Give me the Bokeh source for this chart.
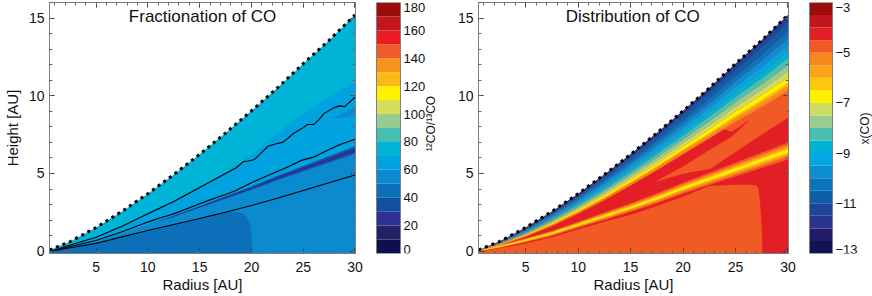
import math
import numpy as np
from bokeh.plotting import figure
from bokeh.layouts import row
from bokeh.models import (Range1d, LinearAxis, SingleIntervalTicker, Label,
                          CustomJSTickFormatter, ColumnDataSource)
from bokeh.embed import file_html
from bokeh.resources import INLINE

# ---------------- data ----------------
radius_au = [0.5, 2.5, 5, 7.5, 10, 12.5, 15, 17.5, 20, 22.5, 25, 27.5, 30]
surface_z = [0.08, 0.62, 1.52, 2.56, 3.70, 4.93, 6.23, 7.60, 9.03, 10.50, 12.06, 13.57, 15.20]

# colour scales
ratio_levels = [0, 10, 20, 30, 40, 50, 60, 70, 80, 90, 100, 110, 120, 130, 140, 150, 160, 170, 180]
ratio_colors = ["#0f0f4f", "#232063", "#2e3192", "#124f9f", "#0b6fba", "#0b8ad0",
                "#00a3e0", "#00b4d8", "#45c0b0", "#98cb8f", "#d7df5a", "#fff200",
                "#fdb913", "#f7941d", "#f15a29", "#ed1c24", "#c4161c", "#9b0d0d"]
ratio_ticks = [0, 20, 40, 60, 80, 100, 120, 140, 160, 180]
ratio_tick_labels = ["0", "20", "40", "60", "80", "100", "120", "140", "160", "180"]

xco_levels = [-13, -12.5, -12, -11.5, -11, -10.5, -10, -9.5, -9, -8.5, -8, -7.5, -7,
              -6.5, -6, -5.5, -5, -4.5, -4, -3.5, -3]
xco_colors = ["#111253", "#211c6a", "#2a3590", "#21449a", "#0d5fa8", "#0b75bb",
              "#0d8ed1", "#03a6e3", "#00b3d6", "#4bbfb0", "#99cc8e", "#cddc63",
              "#fff200", "#fdc70c", "#fba31a", "#f7861f", "#f15a24", "#e31e24",
              "#c1161d", "#9b0d0d"]
xco_ticks = [-13, -11, -9, -7, -5, -3]
xco_tick_labels = ["\u221213", "\u221211", "\u22129", "\u22127", "\u22125", "\u22123"]

# --- panel 1: 12CO/13CO ratio regions ---
ratio_70_top = surface_z
ratio_60_top = [0.03, 0.42, 0.95, 1.65, 2.45, 3.25, 4.15, 5.10, 6.20, 7.60, 8.85, 9.90, 10.90]
ratio_50_top = [0.01, 0.27, 0.63, 1.15, 1.72, 2.25, 2.80, 3.35, 4.00, 4.70, 5.45, 6.00, 6.70]
streak_center = [0.0, 0.2, 0.5, 1.0, 1.70, 2.25, 2.85, 3.45, 4.05, 4.70, 5.30, 5.90, 6.50]
streak_half = [0.0, 0.0, 0.0, 0.0, 0.0, 0.03, 0.06, 0.09, 0.12, 0.15, 0.19, 0.23, 0.27]
core40_r = [0.5, 2.5, 5, 7.5, 10, 12.5, 15, 16.5, 17.5, 18.5, 19.2, 19.6, 19.85, 20.0, 20.05, 20.05, 0.5]
core40_z = [0.0, 0.2, 0.45, 0.85, 1.25, 1.68, 2.1, 2.4, 2.5, 2.52, 2.4, 2.15, 1.7, 1.0, 0.3, -1, -1]
blob50_r = [27.6, 28.5, 30.1, 30.1, 29.0]
blob50_z = [8.55, 8.75, 9.3, 8.75, 8.6]

contour1_r = [0.8, 2.5, 5, 7.5, 10, 12.5, 15, 17.5, 18.5, 19.2, 19.7, 20.3, 21.0, 21.6, 22.3,
              23.0, 23.5, 24.0, 25.0, 25.4, 26.0, 26.5, 27.0, 28.0, 28.5, 29.0, 30.0]
contour1_z = [0.02, 0.40, 0.90, 1.60, 2.40, 3.20, 4.10, 5.00, 5.35, 5.75, 5.80, 5.90, 6.35, 6.75,
              6.90, 7.00, 7.25, 7.55, 7.95, 8.15, 8.15, 8.45, 8.85, 9.25, 9.35, 9.30, 9.90]
contour2_r = [0.8, 2.5, 5, 7.5, 10, 11, 12.5, 15, 16, 17.5, 18.5, 20, 21.6, 23.5, 24.8, 26, 27.3, 28.5, 30]
contour2_z = [0.02, 0.30, 0.69, 1.25, 1.87, 2.10, 2.40, 3.05, 3.30, 3.65, 3.90, 4.40, 4.87, 5.41,
              5.84, 6.05, 6.48, 6.85, 7.20]
contour3_r = [0.8, 2.5, 5, 7.5, 10, 12.5, 15, 17.5, 20, 22.5, 25, 27.5, 30]
contour3_z = [0.02, 0.22, 0.50, 0.92, 1.33, 1.72, 2.10, 2.50, 2.94, 3.40, 3.90, 4.40, 4.90]

# --- panel 2: log x(CO) regions ---
co_grad_bottom_z = [0.03, 0.37, 0.92, 1.61, 2.40, 3.28, 4.23, 5.20, 6.23, 7.25, 8.31, 9.27, 10.30]
co_grad_fraction = [0.11, 0.22, 0.31, 0.40, 0.48, 0.57, 0.66, 0.74, 0.82, 0.90, 0.93, 0.96, 1.00]
co_streak_center = [0.02, 0.30, 0.70, 1.15, 1.70, 2.25, 2.80, 3.40, 4.05, 4.65, 5.25, 5.85, 6.45]
co_streak_half = [0.02, 0.08, 0.13, 0.17, 0.20, 0.24, 0.28, 0.32, 0.36, 0.40, 0.45, 0.50, 0.55]
co_streak_fraction = [1.0, 0.72, 0.5, 0.32, 0.16]
co_block_r = [0.5, 2.5, 5, 7.5, 10, 12.5, 15, 17.5, 20, 22.5, 25, 26.5, 27.0, 27.2, 27.35, 27.5, 27.6, 0.5]
co_block_z = [-0.02, 0.18, 0.50, 0.90, 1.40, 1.90, 2.35, 2.90, 3.50, 4.20, 4.28, 4.28, 4.22, 4.0,
              3.0, 1.5, -1, -1]
# orange (-5..-4.5) zone below the surface layer, wrapping round a red tongue
co_orange_r = [17.3, 20.0, 22.6, 24.6, 27.0, 30.1, 30.1, 27.5, 25.0, 23.5, 24.6, 25.5, 26.4,
               25.5, 24.6, 22.0, 20.0]
co_orange_z = [4.45, 4.98, 5.30, 6.20, 7.28, 8.63, 10.6, 9.47, 8.50, 7.95, 7.68, 8.05, 8.52,
               7.90, 7.34, 6.30, 5.45]

# ---------------- styling / layout constants (pixels) ----------------
H = 296
FONT = "Liberation Sans"
GRAY = "#7f7f7f"
X_RANGE = (0.5, 30.05)
Y_RANGE = (-0.15, 16.0)
BORDER_TOP, BORDER_BOTTOM = 2, 43
FRAME_H = H - BORDER_TOP - BORDER_BOTTOM


def ratio_color(v):
    return ratio_colors[ratio_levels.index(v)]


def xco_color(v):
    return xco_colors[xco_levels.index(v)]


def panel(width, border_left, ylabel):
    p = figure(width=width, height=H, x_range=Range1d(*X_RANGE), y_range=Range1d(*Y_RANGE),
               output_backend="svg", toolbar_location=None, x_axis_type=None, y_axis_type=None,
               min_border_left=border_left, min_border_right=10, min_border_top=BORDER_TOP,
               min_border_bottom=BORDER_BOTTOM)
    p.outline_line_color = GRAY
    p.background_fill_color = "white"
    p.border_fill_color = "white"
    blank = CustomJSTickFormatter(code="return ''")
    for side in ("below", "above", "left", "right"):
        ax = LinearAxis(ticker=SingleIntervalTicker(interval=5, num_minor_ticks=5))
        ax.major_tick_in = 5
        ax.major_tick_out = 0
        ax.minor_tick_in = 3
        ax.minor_tick_out = 0
        ax.axis_line_color = GRAY
        ax.major_tick_line_color = "#333333"
        ax.minor_tick_line_color = "#666666"
        ax.major_label_text_font = FONT
        ax.major_label_text_font_size = "14px"
        ax.major_label_text_color = "#111111"
        ax.axis_label_text_font = FONT
        ax.axis_label_text_font_style = "normal"
        ax.axis_label_text_color = "#111111"
        ax.axis_label_text_font_size = "15px"
        if side == "below":
            ax.axis_label = "Radius [AU]"
            ax.major_label_standoff = 8
            ax.axis_label_standoff = 1
        elif side == "left":
            ax.major_label_standoff = 5
            if ylabel:
                ax.axis_label = ylabel
                ax.axis_label_standoff = 5
        else:
            ax.formatter = blank
            ax.major_label_text_font_size = "0px"
            ax.major_label_standoff = 0
        p.add_layout(ax, side)
    return p


def colorbar(width, bar_left_px, bar_px, levels, colors, ticks, tick_labels, title, title_px):
    """Colour bar: frame spans the bar's height and the figure's full width; bar is x 0..1."""
    lo, hi = levels[0], levels[-1]
    y_per_px = (hi - lo) / FRAME_H
    x_per_px = 1.0 / bar_px
    cb = figure(width=width, height=H, output_backend="svg", toolbar_location=None,
                x_axis_type=None, y_axis_type=None,
                x_range=Range1d(-bar_left_px * x_per_px, (width - bar_left_px) * x_per_px),
                y_range=Range1d(lo, hi),
                min_border_left=0, min_border_right=0, min_border_top=BORDER_TOP,
                min_border_bottom=BORDER_BOTTOM)
    cb.outline_line_color = None
    cb.background_fill_color = "white"
    cb.border_fill_color = "white"
    cb.quad(left=0, right=1, bottom=levels[:-1], top=levels[1:], fill_color=colors,
            line_color=None)
    cb.quad(left=0, right=1, bottom=lo, top=hi, fill_color=None, line_color=GRAY, line_width=1)
    baselines = ["bottom" if t == lo else ("top" if t == hi else "middle") for t in ticks]
    src = ColumnDataSource(dict(y=ticks, text=tick_labels, baseline=baselines))
    cb.text(x=1 + 3 * x_per_px, y="y", text="text", source=src, text_align="left",
            text_baseline="baseline", text_font_size="13px", text_color="#111111",
            text_font={"value": FONT})
    tx, ty = title_px
    cb.add_layout(Label(x=(tx - bar_left_px) * x_per_px, y=hi - (ty - BORDER_TOP) * y_per_px,
                        text=title, angle=math.pi / 2, text_align="center",
                        text_baseline="middle", text_font=FONT, text_font_size="12px",
                        text_color="#111111"))
    return cb


def dotted_surface(p):
    p.line(radius_au, surface_z, line_color="black", line_width=3, line_dash="3 4")


# ---------------- panel 1: fractionation ----------------
p1 = panel(365, 45, "Height [AU]")
p1.varea(x=radius_au, y1=-1, y2=ratio_70_top, fill_color=ratio_color(70))
p1.varea(x=radius_au, y1=-1, y2=ratio_60_top, fill_color=ratio_color(60))
p1.varea(x=radius_au, y1=-1, y2=ratio_50_top, fill_color=ratio_color(50))
p1.patch(blob50_r, blob50_z, fill_color=ratio_color(50), line_color=None)
sc = np.array(streak_center)
sh = np.array(streak_half)
for frac, lev in ((1.0, 40), (0.7, 30), (0.4, 20)):
    p1.varea(x=radius_au, y1=sc - frac * sh, y2=sc + frac * sh, fill_color=ratio_color(lev))
p1.patch(core40_r, core40_z, fill_color=ratio_color(40), line_color=None)
for cr, cz in ((contour1_r, contour1_z), (contour2_r, contour2_z), (contour3_r, contour3_z)):
    p1.line(cr, cz, line_color="black", line_width=1.1)
dotted_surface(p1)
p1.add_layout(Label(x=15.28, y=15.1, text="Fractionation of CO", text_align="center",
                    text_baseline="middle", text_font=FONT, text_font_size="17px",
                    text_color="#111111"))

cb1 = colorbar(80, 11, 24, ratio_levels, ratio_colors, ratio_ticks, ratio_tick_labels,
               "\u00b9\u00b2CO/\u00b9\u00b3CO", (65, 123))

# ---------------- panel 2: distribution ----------------
p2 = panel(353, 33, None)
p2.varea(x=radius_au, y1=-1, y2=surface_z, fill_color=xco_color(-4.5))
p2.patch(co_orange_r, co_orange_z, fill_color=xco_color(-5), line_color=None)
p2.patch(co_block_r, co_block_z, fill_color=xco_color(-5), line_color=None)
csc = np.array(co_streak_center)
csh = np.array(co_streak_half)
for frac, lev in zip(co_streak_fraction, (-5, -5.5, -6, -6.5, -7)):
    p2.varea(x=radius_au, y1=csc - frac * csh, y2=csc + frac * csh, fill_color=xco_color(lev))
surf = np.array(surface_z)
thick = surf - np.array(co_grad_bottom_z)
bounds = [surf] + [surf - f * thick for f in co_grad_fraction]
grad_levels = [-11.5, -11, -10.5, -10, -9.5, -9, -8.5, -8, -7.5, -7, -6.5, -6, -5.5]
for i, lev in enumerate(grad_levels):
    p2.varea(x=radius_au, y1=bounds[i + 1], y2=bounds[i], fill_color=xco_color(lev))
dotted_surface(p2)
p2.add_layout(Label(x=15.2, y=15.1, text="Distribution of CO", text_align="center",
                    text_baseline="middle", text_font=FONT, text_font_size="17px",
                    text_color="#111111"))

cb2 = colorbar(74, 11, 23, xco_levels, xco_colors, xco_ticks, xco_tick_labels,
               "x(CO)", (66, 128))

layout = row(p1, cb1, p2, cb2)
open("out.html", "w").write(file_html(layout, INLINE))
